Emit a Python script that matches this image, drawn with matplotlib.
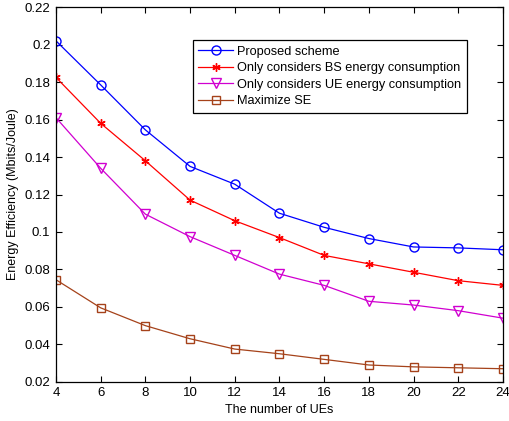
import matplotlib
matplotlib.use('Agg')
import matplotlib.pyplot as plt

plt.rcParams['font.family'] = ['Liberation Sans', 'DejaVu Sans']

num_ues = [4, 6, 8, 10, 12, 14, 16, 18, 20, 22, 24]
proposed = [0.202, 0.1785, 0.1545, 0.135, 0.1255, 0.110, 0.1025, 0.0965, 0.092, 0.0915, 0.0905]
bs_only = [0.1825, 0.158, 0.138, 0.117, 0.106, 0.097, 0.0875, 0.083, 0.0785, 0.074, 0.0715]
ue_only = [0.161, 0.134, 0.1095, 0.0975, 0.0875, 0.0775, 0.0715, 0.063, 0.061, 0.058, 0.054]
max_se = [0.0745, 0.0595, 0.050, 0.043, 0.0375, 0.035, 0.032, 0.029, 0.028, 0.0275, 0.027]

labels = ['Proposed scheme', 'Only considers BS energy consumption',
          'Only considers UE energy consumption', 'Maximize SE']

fig = plt.figure(figsize=(5.09, 4.21), dpi=100)
ax = fig.add_axes([0.110, 0.093, 0.878, 0.890])

lw = 0.9
ax.plot(num_ues, proposed, color='b', marker='o', ms=6.5, mfc='none', lw=lw, label=labels[0])
ax.plot(num_ues, bs_only, color='r', marker=(6, 2, 0), ms=6, mew=1.0, lw=lw, label=labels[1])
ax.plot(num_ues, ue_only, color='#d000d0', marker='v', ms=7, mfc='none', lw=lw, label=labels[2])
ax.plot(num_ues, max_se, color='#a5421a', marker='s', ms=5.5, mfc='none', lw=lw, label=labels[3])

ax.set_xlim(4, 24)
ax.set_ylim(0.02, 0.22)
ax.set_xticks(range(4, 25, 2))
ax.set_yticks([0.02, 0.04, 0.06, 0.08, 0.1, 0.12, 0.14, 0.16, 0.18, 0.2, 0.22])
ax.set_yticklabels(['0.02', '0.04', '0.06', '0.08', '0.1', '0.12', '0.14', '0.16', '0.18', '0.2', '0.22'])
ax.tick_params(direction='in', top=True, right=True, labelsize=9.5, length=4, pad=4)
for s in ax.spines.values():
    s.set_linewidth(0.9)

ax.set_xlabel('The number of UEs', fontsize=9, labelpad=3)
ax.set_ylabel('Energy Efficiency (Mbits/Joule)', fontsize=9, labelpad=4)

leg = ax.legend(loc='upper left', bbox_to_anchor=(0.306, 0.913), fontsize=9.2,
                frameon=True, fancybox=False, edgecolor='k', framealpha=1,
                borderpad=0.45, labelspacing=0.36, handlelength=2.7, handletextpad=0.35,
                borderaxespad=0)
leg.get_frame().set_linewidth(0.9)

fig.savefig('out.png', dpi=100)
